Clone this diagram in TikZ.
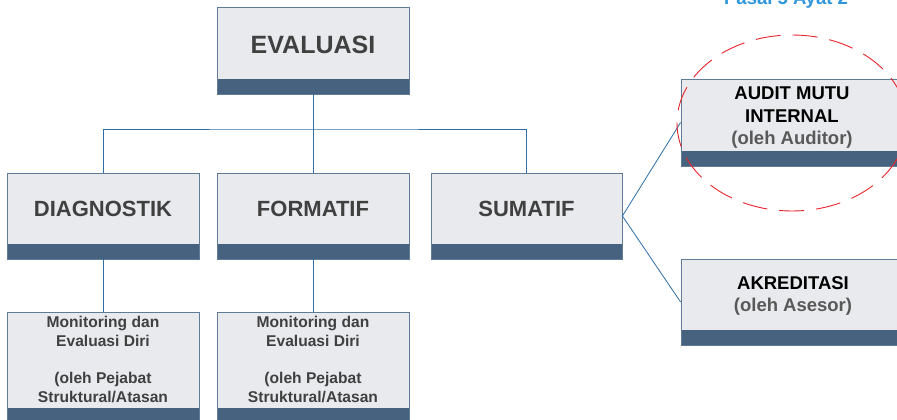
\documentclass[tikz,border=0pt]{standalone}
\usepackage{fontspec}
\setmainfont{Liberation Sans}
\definecolor{boxfill}{HTML}{E9EAEE}
\definecolor{boxline}{HTML}{5F7B97}
\definecolor{band}{HTML}{46627F}
\definecolor{conn}{HTML}{2F6EA5}
\definecolor{txt}{HTML}{404040}
\definecolor{subtxt}{HTML}{595959}
\definecolor{pasal}{HTML}{2E96DC}
\definecolor{ell}{HTML}{E8242C}
\tikzset{
  orgbox/.style={draw=boxline, line width=0.8pt, fill=boxfill, inner sep=0pt,
    minimum width=#1, minimum height=86pt,
    path picture={\fill[band] ([yshift=15pt]path picture bounding box.south west) rectangle (path picture bounding box.south east);}},
  orgbox/.default=192pt,
  bigtxt/.style={font=\bfseries\fontsize{25}{30}\selectfont, text=txt, inner sep=0pt},
  midtxt/.style={font=\bfseries\fontsize{22}{26}\selectfont, text=txt, inner sep=0pt},
  sidetxt/.style={font=\bfseries\fontsize{18.5}{22.5}\selectfont, align=center, inner sep=0pt},
  smalltxt/.style={font=\bfseries\fontsize{15.6}{18.75}\selectfont, text=txt, align=center, inner sep=0pt},
  connline/.style={draw=conn, line width=0.8pt},
}
\begin{document}
\begin{tikzpicture}[x=1pt, y=-1pt]
\useasboundingbox (0,0) rectangle (897,420);
\clip (0,0) rectangle (897,420);
\fill[white] (0,0) rectangle (897,420);

% boxes
\node[orgbox, minimum height=87pt] (eval) at (313,50.5) {};
\node[orgbox] (diag) at (103,216) {};
\node[orgbox] (form) at (313,216) {};
\node[orgbox=191pt] (sum) at (526.5,216) {};
\node[orgbox=222pt, minimum height=87pt] (audit) at (792,122.5) {};
\node[orgbox=222pt] (akred) at (792,302) {};
\node[orgbox, minimum height=111pt] (mon1) at (103,367.5) {};
\node[orgbox, minimum height=111pt] (mon2) at (313,367.5) {};

% connectors
\coordinate (bus) at (313,129);
\draw[connline] (eval.south) -- (form.north);
\draw[connline] (diag.north) |- (bus) -| (sum.north);
\draw[connline] (diag.south) -- (mon1.north);
\draw[connline] (form.south) -- (mon2.north);
\draw[connline] (sum.east) -- (audit.west);
\draw[connline] (sum.east) -- (akred.west);

% labels
\node[bigtxt] (tEval) at (313,44.5) {EVALUASI};
\node[midtxt] (tDiag) at (103,209) {DIAGNOSTIK};
\node[midtxt] (tForm) at (313,209) {FORMATIF};
\node[midtxt] (tSum) at (526.5,209) {SUMATIF};
\node[sidetxt] (tAudit) at (792,117.8) {AUDIT MUTU\\INTERNAL\\\textcolor{subtxt}{(oleh Auditor)}};
\node[sidetxt] (tAkred) at (793,296) {AKREDITASI\\\textcolor{subtxt}{(oleh Asesor)}};
\node[smalltxt] (tMon1) at (103,359.3) {Monitoring dan\\Evaluasi Diri\\[18.75pt](oleh Pejabat\\Struktural/Atasan};
\node[smalltxt] (tMon2) at (313,359.3) {Monitoring dan\\Evaluasi Diri\\[18.75pt](oleh Pejabat\\Struktural/Atasan};

% top-right note
\node[font=\bfseries\fontsize{18.5}{22}\selectfont, text=pasal, anchor=base, inner sep=0pt] (pasal) at (786,4.5) {Pasal 5 Ayat 2};

% red dashed ellipse
\draw[ell, line width=0.9pt, dash pattern=on 25pt off 12pt] (792,123) ellipse [x radius=115, y radius=88];
\end{tikzpicture}
\end{document}
